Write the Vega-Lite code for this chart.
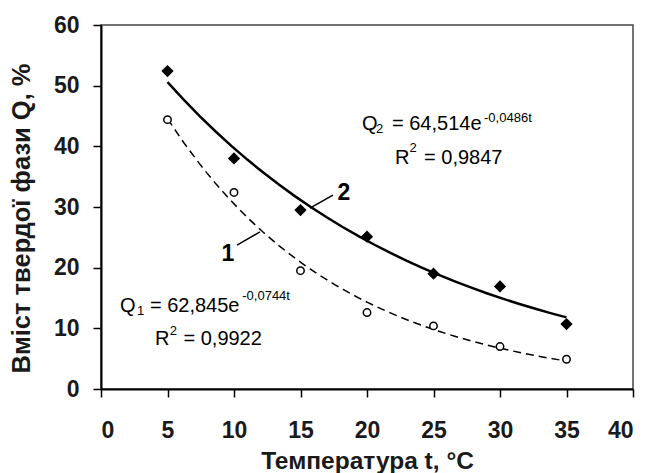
{
  "$schema": "https://vega.github.io/schema/vega-lite/v6.json",
  "width": 532,
  "height": 364,
  "autosize": {"type": "none"},
  "padding": {"left": 101, "top": 25, "right": 16, "bottom": 84},
  "background": "white",
  "config": {
    "font": "Liberation Sans",
    "view": {"stroke": "#444", "strokeWidth": 1.5},
    "axis": {
      "grid": false,
      "domainColor": "black",
      "domainWidth": 2,
      "tickColor": "black",
      "tickWidth": 1.5,
      "tickSize": 8,
      "labelFont": "Liberation Sans",
      "labelFontWeight": "bold",
      "labelFontSize": 23,
      "labelColor": "#1a1a1a",
      "titleFont": "Liberation Sans",
      "titleFontWeight": "bold",
      "titleColor": "#1a1a1a"
    }
  },
  "datasets": {
    "points": [
      {"t": 5, "q": 52.4, "s": "2"},
      {"t": 10, "q": 38.0, "s": "2"},
      {"t": 15, "q": 29.5, "s": "2"},
      {"t": 20, "q": 25.1, "s": "2"},
      {"t": 25, "q": 19.0, "s": "2"},
      {"t": 30, "q": 16.9, "s": "2"},
      {"t": 35, "q": 10.7, "s": "2"},
      {"t": 5, "q": 44.4, "s": "1"},
      {"t": 10, "q": 32.4, "s": "1"},
      {"t": 15, "q": 19.5, "s": "1"},
      {"t": 20, "q": 12.6, "s": "1"},
      {"t": 25, "q": 10.4, "s": "1"},
      {"t": 30, "q": 7.0, "s": "1"},
      {"t": 35, "q": 4.9, "s": "1"}
    ],
    "leaders": [
      {"t": 15.71, "q": 29.8, "t2": 17.44, "q2": 31.97},
      {"t": 10.23, "q": 23.7, "t2": 11.95, "q2": 25.9}
    ],
    "curveLabels": [
      {"t": 18.27, "q": 32.3, "txt": "2"},
      {"t": 9.55, "q": 22.3, "txt": "1"}
    ],
    "eqMain": [
      {"t": 19.62, "q": 42.7, "txt": "Q"},
      {"t": 21.88, "q": 42.7, "txt": "= 64,514e"},
      {"t": 22.1, "q": 37.1, "txt": "R"},
      {"t": 24.29, "q": 37.1, "txt": "= 0,9847"},
      {"t": 1.43, "q": 12.77, "txt": "Q"},
      {"t": 3.68, "q": 12.77, "txt": "= 62,845e"},
      {"t": 4.06, "q": 7.25, "txt": "R"},
      {"t": 6.2, "q": 7.25, "txt": "= 0,9922"}
    ],
    "eqSmall": [
      {"t": 20.68, "q": 42.2, "txt": "2"},
      {"t": 28.8, "q": 44.06, "txt": "-0,0486t"},
      {"t": 23.2, "q": 39.1, "txt": "2"},
      {"t": 2.71, "q": 12.28, "txt": "1"},
      {"t": 10.62, "q": 14.67, "txt": "-0,0744t"},
      {"t": 5.17, "q": 8.9, "txt": "2"}
    ]
  },
  "encoding": {
    "x": {
      "field": "t",
      "type": "quantitative",
      "scale": {"domain": [0, 40], "nice": false, "zero": false},
      "axis": {"values": [0, 5, 10, 15, 20, 25, 30, 35, 40], "labelPadding": 22, "titlePadding": 7, "titleFontSize": 24.5, "title": "Температура t, °C"}
    },
    "y": {
      "field": "q",
      "type": "quantitative",
      "scale": {"domain": [0, 60], "nice": false, "zero": false},
      "axis": {"values": [0, 10, 20, 30, 40, 50, 60], "labelPadding": 14, "titlePadding": 19, "titleFontSize": 25.5, "titleY": 193, "title": "Вміст твердої фази Q, %"}
    }
  },
  "layer": [
    {
      "data": {"name": "points"},
      "transform": [
        {"filter": "datum.s === '2'"},
        {"regression": "q", "on": "t", "method": "exp", "extent": [5, 35]}
      ],
      "mark": {"type": "line", "color": "black", "strokeWidth": 2.5}
    },
    {
      "data": {"name": "points"},
      "transform": [
        {"filter": "datum.s === '1'"},
        {"regression": "q", "on": "t", "method": "exp", "extent": [5, 35]}
      ],
      "mark": {"type": "line", "color": "black", "strokeWidth": 1.5, "strokeDash": [8, 5]}
    },
    {
      "data": {"name": "points"},
      "transform": [{"filter": "datum.s === '2'"}],
      "mark": {"type": "point", "shape": "diamond", "filled": true, "color": "black", "size": 150, "opacity": 1}
    },
    {
      "data": {"name": "points"},
      "transform": [{"filter": "datum.s === '1'"}],
      "mark": {"type": "point", "shape": "circle", "filled": false, "fill": "white", "fillOpacity": 1, "stroke": "black", "strokeWidth": 1.5, "size": 55, "opacity": 1}
    },
    {
      "data": {"name": "leaders"},
      "mark": {"type": "rule", "color": "black", "strokeWidth": 1.5},
      "encoding": {
        "x2": {"field": "t2"},
        "y2": {"field": "q2"}
      }
    },
    {
      "data": {"name": "curveLabels"},
      "mark": {"type": "text", "font": "Liberation Sans", "fontWeight": "bold", "fontSize": 23, "align": "center", "baseline": "middle", "color": "black"},
      "encoding": {"text": {"field": "txt"}}
    },
    {
      "data": {"name": "eqMain"},
      "mark": {"type": "text", "font": "Liberation Sans", "fontSize": 20, "align": "left", "baseline": "alphabetic", "color": "black"},
      "encoding": {"text": {"field": "txt"}}
    },
    {
      "data": {"name": "eqSmall"},
      "mark": {"type": "text", "font": "Liberation Sans", "fontSize": 13, "align": "left", "baseline": "alphabetic", "color": "black"},
      "encoding": {"text": {"field": "txt"}}
    }
  ]
}
